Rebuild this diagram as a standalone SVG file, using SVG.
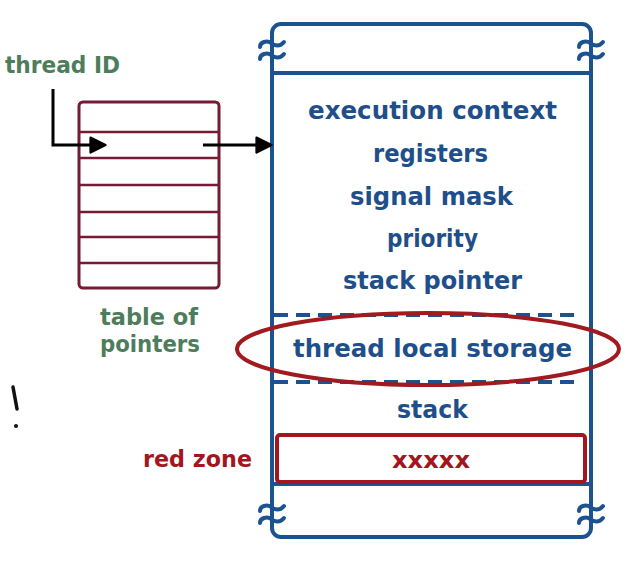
<svg xmlns="http://www.w3.org/2000/svg" width="638" height="582" viewBox="0 0 638 582">
  <style>
    .blue { fill: none; stroke: #1b5290; stroke-width: 4; }
    .btext { fill: #1f4f8a; font-family: "DejaVu Sans", "Open Sans", sans-serif; font-weight: 700; font-size: 25px; text-anchor: middle; }
    .gtext { fill: #4e7d5b; font-family: "DejaVu Sans", "Open Sans", sans-serif; font-weight: 700; font-size: 23px; }
    .rtext { fill: #a3161d; font-family: "DejaVu Sans", "Open Sans", sans-serif; font-weight: 700; font-size: 23px; }
    .tbl { fill: none; stroke: #741c33; stroke-width: 3; }
    .row { stroke: #741c33; stroke-width: 2.5; }
    .arrow { fill: none; stroke: #000; stroke-width: 3; }
    .brk { fill: none; stroke: #1b5290; stroke-width: 4; stroke-linecap: round; }
  </style>
  <defs>
    <marker id="head" viewBox="0 0 12 12" refX="10" refY="6" markerWidth="6" markerHeight="6" markerUnits="strokeWidth" orient="auto">
      <path d="M1,1 L11,6 L1,11 Z" fill="#000" stroke="#000" stroke-width="1.5" stroke-linejoin="round"/>
    </marker>
    <!-- break mark: two curly strokes across a vertical edge -->
    <g id="break">
      <path class="brk" d="M-12,-2 c0,-5 7,-7 11,-4 c4,3 9,4 13,-1"/>
      <path class="brk" d="M-12,10 c0,-5 7,-7 11,-4 c4,3 9,4 13,-1"/>
    </g>
  </defs>

  <rect width="638" height="582" fill="#fff"/>

  <!-- thread control block -->
  <g id="tcb">
    <rect class="blue" x="272" y="24" width="319" height="513" rx="9"/>
    <line class="blue" x1="272" y1="73" x2="591" y2="73"/>
    <use href="#break" x="272" y="49"/>
    <use href="#break" x="591" y="49"/>
    <use href="#break" x="272" y="513"/>
    <use href="#break" x="591" y="513"/>
    <text class="btext" x="432.5" y="119" textLength="249" lengthAdjust="spacingAndGlyphs">execution context</text>
    <text class="btext" x="430.5" y="162" textLength="115" lengthAdjust="spacingAndGlyphs">registers</text>
    <text class="btext" x="431.5" y="205" textLength="163" lengthAdjust="spacingAndGlyphs">signal mask</text>
    <text class="btext" x="432.5" y="247" textLength="91" lengthAdjust="spacingAndGlyphs">priority</text>
    <text class="btext" x="432.5" y="289" textLength="179" lengthAdjust="spacingAndGlyphs">stack pointer</text>
    <line class="blue" x1="274" y1="315" x2="582" y2="315" stroke-dasharray="14 8"/>
    <line class="blue" x1="274" y1="382" x2="582" y2="382" stroke-dasharray="14 8"/>
    <text class="btext" x="432.5" y="357" textLength="279" lengthAdjust="spacingAndGlyphs">thread local storage</text>
    <text class="btext" x="432.5" y="418" textLength="71" lengthAdjust="spacingAndGlyphs">stack</text>
    <line class="blue" x1="272" y1="484" x2="591" y2="484"/>
  </g>

  <!-- red zone -->
  <g id="red-zone">
    <rect x="277" y="435" width="308" height="47" rx="3" fill="none" stroke="#a3161d" stroke-width="4"/>
    <text class="rtext" x="431" y="468" text-anchor="middle" textLength="78" lengthAdjust="spacingAndGlyphs">xxxxx</text>
    <text class="rtext" x="143" y="467" textLength="109" lengthAdjust="spacingAndGlyphs">red zone</text>
  </g>

  <!-- table of pointers -->
  <g id="table">
    <rect class="tbl" x="79" y="102" width="140" height="186" rx="4"/>
    <line class="row" x1="79" y1="132" x2="219" y2="132"/>
    <line class="row" x1="79" y1="158" x2="219" y2="158"/>
    <line class="row" x1="79" y1="185" x2="219" y2="185"/>
    <line class="row" x1="79" y1="212" x2="219" y2="212"/>
    <line class="row" x1="79" y1="237" x2="219" y2="237"/>
    <line class="row" x1="79" y1="263" x2="219" y2="263"/>
    <text class="gtext" x="149" y="325" text-anchor="middle" textLength="98" lengthAdjust="spacingAndGlyphs">table of</text>
    <text class="gtext" x="150" y="352" text-anchor="middle" textLength="100" lengthAdjust="spacingAndGlyphs">pointers</text>
  </g>

  <!-- thread ID label -->
  <g id="thread-id">
    <text class="gtext" x="5" y="73" textLength="115" lengthAdjust="spacingAndGlyphs">thread ID</text>
  </g>

  <!-- connectors -->
  <g id="connectors">
    <path class="arrow" d="M53,89 V145 H104" marker-end="url(#head)"/>
    <path class="arrow" d="M203,145 H270" marker-end="url(#head)"/>
  </g>

  <!-- thread local storage highlight -->
  <g id="highlight">
    <ellipse cx="428" cy="349" rx="191" ry="36" fill="none" stroke="#a01a20" stroke-width="4"/>
  </g>

  <!-- handwritten note -->
  <g id="note">
    <path d="M13,387 Q15,398 17,409" fill="none" stroke="#111" stroke-width="3.5" stroke-linecap="round"/>
    <circle cx="16" cy="426" r="2" fill="#111"/>
  </g>
</svg>
